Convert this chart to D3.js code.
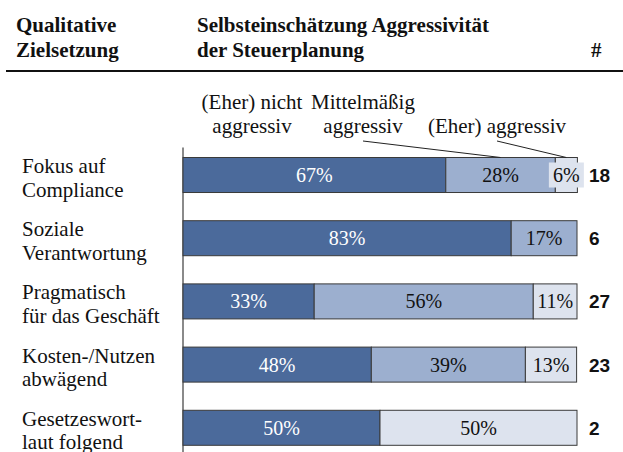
<!DOCTYPE html>
<html lang="de">
<head>
<meta charset="utf-8">
<style>
  body { margin: 0; background: #fff; }
</style>
<script src="https://cdn.jsdelivr.net/npm/d3@7"></script>
</head>
<body>
<svg width="623" height="452"></svg>
<script>
// data
var categories = [
  ["Fokus auf", "Compliance"],
  ["Soziale", "Verantwortung"],
  ["Pragmatisch", "für das Geschäft"],
  ["Kosten-/Nutzen", "abwägend"],
  ["Gesetzeswort-", "laut folgend"]
];
var notAggressive = [66.7, 83.3, 33.3, 47.8, 50];
var medium        = [27.8, 16.7, 55.6, 39.1, 0];
var aggressive    = [5.6,  0,    11.1, 13.0, 50];
var counts        = [18, 6, 27, 23, 2];

var seriesNames = [
  ["(Eher) nicht", "aggressiv"],
  ["Mittelmäßig", "aggressiv"],
  ["", "(Eher) aggressiv"]
];
var seriesColors = ["#4b6a9b", "#9cafcf", "#dde3ee"];
var textColors = ["#fff", "#111", "#111"];

var serif = "'Liberation Serif', 'Times New Roman', Times, serif";
var sans = "'Liberation Sans', Arial, Helvetica, sans-serif";

var svg = d3.select("svg");

var x = d3.scaleLinear().domain([0, 100]).range([183, 577]);
var y = d3.scaleBand().domain(d3.range(categories.length))
    .range([157.5, 445.3]).paddingInner(0.446).paddingOuter(0);

// header
var head = svg.append("g")
    .style("font-family", serif)
    .style("font-weight", "bold")
    .style("font-size", "21px")
    .attr("fill", "#111");
head.append("text").attr("x", 16).attr("y", 32).text("Qualitative");
head.append("text").attr("x", 16).attr("y", 57).text("Zielsetzung");
head.append("text").attr("x", 197).attr("y", 32).text("Selbsteinschätzung Aggressivität");
head.append("text").attr("x", 197).attr("y", 57).text("der Steuerplanung");
head.append("text").attr("x", 591).attr("y", 57).text("#");
svg.append("line")
    .attr("x1", 6).attr("x2", 623).attr("y1", 71).attr("y2", 71)
    .attr("stroke", "#111").attr("stroke-width", 2);

// stacked rows
var rows = categories.map(function(c, i) {
  var vals = [notAggressive[i], medium[i], aggressive[i]];
  var x0 = 0;
  return vals.map(function(v, k) {
    var seg = { row: i, k: k, v: v, x0: x0, x1: x0 + v };
    x0 += v;
    return seg;
  });
});
var segs = d3.merge(rows).filter(function(d) { return d.v > 0; });

// axis line
svg.append("line")
    .attr("x1", x(0)).attr("x2", x(0))
    .attr("y1", y(0) - 10).attr("y2", 452)
    .attr("stroke", "#8a8a8a").attr("stroke-width", 2);

svg.append("g").selectAll("rect")
  .data(segs)
  .enter().append("rect")
    .attr("x", function(d) { return x(d.x0); })
    .attr("y", function(d) { return y(d.row); })
    .attr("width", function(d) { return x(d.x1) - x(d.x0); })
    .attr("height", y.bandwidth())
    .attr("fill", function(d) { return seriesColors[d.k]; })
    .attr("stroke", "#3a3a3a")
    .attr("stroke-width", 1);

// small segments get a label box
var labels = svg.append("g").selectAll("g")
  .data(segs)
  .enter().append("g");

labels.filter(function(d) { return x(d.x1) - x(d.x0) < 34; })
  .append("rect")
    .attr("x", function(d) { return (x(d.x0) + x(d.x1)) / 2 - 17.5; })
    .attr("y", function(d) { return y(d.row) + 5; })
    .attr("width", 35)
    .attr("height", y.bandwidth() - 10)
    .attr("fill", function(d) { return seriesColors[d.k]; });

labels.append("text")
    .style("font-family", serif)
    .style("font-size", "20px")
    .attr("x", function(d) { return (x(d.x0) + x(d.x1)) / 2; })
    .attr("y", function(d) { return y(d.row) + y.bandwidth() / 2 + 7; })
    .attr("text-anchor", "middle")
    .attr("fill", function(d) { return textColors[d.k]; })
    .text(function(d) { return Math.round(d.v) + "%"; });

// category labels
var cat = svg.append("g").selectAll("text")
  .data(categories)
  .enter().append("text")
    .style("font-family", serif)
    .style("font-size", "21px")
    .attr("fill", "#111")
    .attr("x", 22)
    .attr("y", function(d, i) { return y(i) + y.bandwidth() / 2 - 2; });
cat.append("tspan").text(function(d) { return d[0]; });
cat.append("tspan")
    .attr("x", 22).attr("dy", 23.5)
    .text(function(d) { return d[1]; });

// counts
svg.append("g").selectAll("text")
  .data(counts)
  .enter().append("text")
    .style("font-family", sans)
    .style("font-weight", "bold")
    .style("font-size", "19px")
    .attr("fill", "#111")
    .attr("x", 589)
    .attr("y", function(d, i) { return y(i) + y.bandwidth() / 2 + 7; })
    .text(function(d) { return d; });

// legend above first bar
var legendX = [252, 363, 497];
var leg = svg.append("g").selectAll("text")
  .data(seriesNames)
  .enter().append("text")
    .style("font-family", serif)
    .style("font-size", "21px")
    .attr("fill", "#111")
    .attr("text-anchor", "middle")
    .attr("x", function(d, i) { return legendX[i]; })
    .attr("y", 109);
leg.append("tspan").text(function(d) { return d[0]; });
leg.append("tspan")
    .attr("x", function(d, i) { return legendX[i]; })
    .attr("dy", 24)
    .text(function(d) { return d[1]; });

// leader lines from labels to segments of first row
var first = rows[0];
svg.append("g").selectAll("line")
  .data([1, 2])
  .enter().append("line")
    .attr("x1", function(k) { return legendX[k]; })
    .attr("y1", 141)
    .attr("x2", function(k) { return (x(first[k].x0) + x(first[k].x1)) / 2; })
    .attr("y2", y(0))
    .attr("stroke", "#222")
    .attr("stroke-width", 1);
</script>
</body>
</html>
